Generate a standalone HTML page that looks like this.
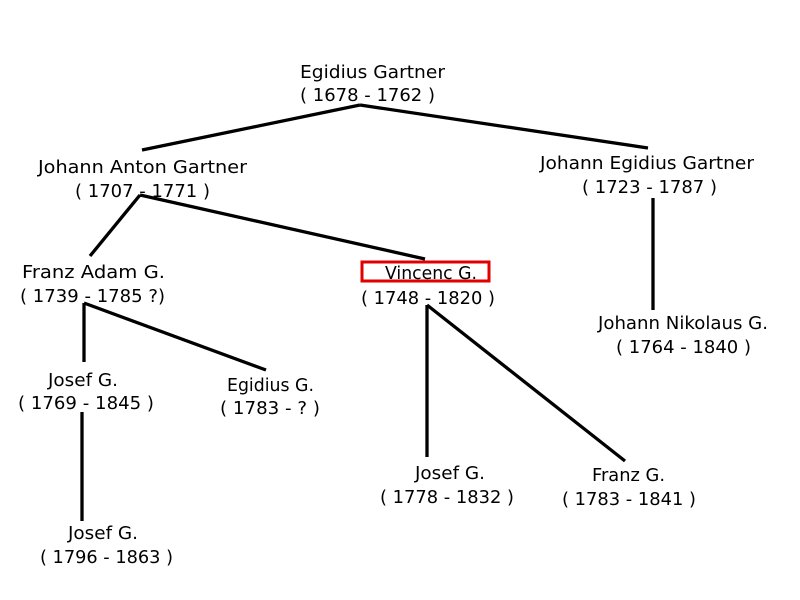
<!DOCTYPE html>
<html><head><meta charset="utf-8"><style>html,body{margin:0;padding:0;background:#fff;}svg{display:block}</style></head>
<body>
<svg width="800" height="600" xmlns="http://www.w3.org/2000/svg" font-family="Verdana, 'DejaVu Sans', sans-serif" font-size="17.5" fill="#000">
<rect width="800" height="600" fill="#fff"/>
<g stroke="#000" stroke-width="3.3" fill="none" stroke-linecap="butt">
<line x1="360" y1="105" x2="142" y2="150"/>
<line x1="360" y1="105" x2="648" y2="148"/>
<line x1="140" y1="195" x2="90" y2="256"/>
<line x1="140" y1="195" x2="425" y2="259"/>
<line x1="84" y1="303" x2="84" y2="362"/>
<line x1="84" y1="303" x2="266" y2="370"/>
<line x1="82" y1="412" x2="82" y2="521"/>
<line x1="427" y1="305" x2="427" y2="457"/>
<line x1="427" y1="305" x2="625" y2="461"/>
<line x1="653" y1="198" x2="653" y2="310"/>
</g>
<rect x="362" y="262" width="127" height="19" fill="none" stroke="#e00000" stroke-width="3"/>
<g xml:space="preserve">
<text x="300" y="78" textLength="145" lengthAdjust="spacingAndGlyphs">Egidius  Gartner</text>
<text x="300" y="101" textLength="135" lengthAdjust="spacingAndGlyphs">( 1678 - 1762 )</text>
<text x="38" y="173" textLength="209" lengthAdjust="spacingAndGlyphs">Johann  Anton  Gartner</text>
<text x="75" y="197" textLength="135" lengthAdjust="spacingAndGlyphs">( 1707 - 1771 )</text>
<text x="540" y="169" textLength="214" lengthAdjust="spacingAndGlyphs">Johann  Egidius Gartner</text>
<text x="582" y="193" textLength="135" lengthAdjust="spacingAndGlyphs">( 1723 - 1787 )</text>
<text x="22" y="278" textLength="143" lengthAdjust="spacingAndGlyphs">Franz  Adam  G.</text>
<text x="20" y="302" textLength="145" lengthAdjust="spacingAndGlyphs">( 1739 - 1785 ?)</text>
<text x="385" y="279" textLength="92" lengthAdjust="spacingAndGlyphs">Vincenc G.</text>
<text x="361" y="304" textLength="134" lengthAdjust="spacingAndGlyphs">( 1748 - 1820 )</text>
<text x="598" y="329" textLength="170" lengthAdjust="spacingAndGlyphs">Johann Nikolaus G.</text>
<text x="616" y="353" textLength="135" lengthAdjust="spacingAndGlyphs">( 1764 - 1840 )</text>
<text x="48" y="386" textLength="70" lengthAdjust="spacingAndGlyphs">Josef G.</text>
<text x="18" y="409" textLength="136" lengthAdjust="spacingAndGlyphs">( 1769 - 1845 )</text>
<text x="227" y="391" textLength="87" lengthAdjust="spacingAndGlyphs">Egidius G.</text>
<text x="220" y="414" textLength="100" lengthAdjust="spacingAndGlyphs">( 1783 - ? )</text>
<text x="415" y="479" textLength="70" lengthAdjust="spacingAndGlyphs">Josef G.</text>
<text x="380" y="503" textLength="134" lengthAdjust="spacingAndGlyphs">( 1778 - 1832 )</text>
<text x="592" y="481" textLength="73" lengthAdjust="spacingAndGlyphs">Franz G.</text>
<text x="562" y="505" textLength="134" lengthAdjust="spacingAndGlyphs">( 1783 - 1841 )</text>
<text x="68" y="539" textLength="70" lengthAdjust="spacingAndGlyphs">Josef G.</text>
<text x="40" y="563" textLength="133" lengthAdjust="spacingAndGlyphs">( 1796 - 1863 )</text>
</g>
</svg>
</body></html>
